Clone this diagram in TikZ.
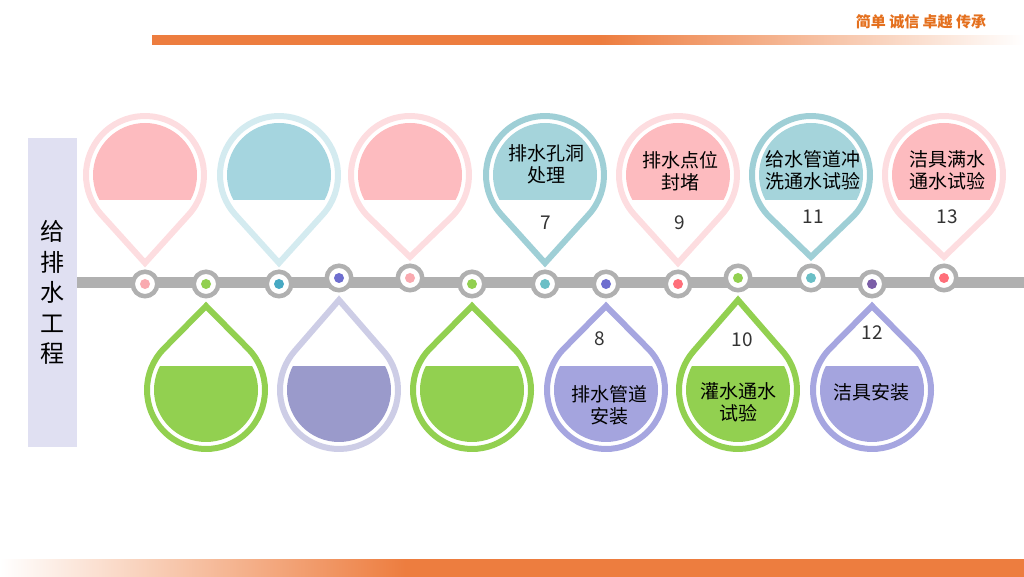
\documentclass[tikz,border=0pt]{standalone}
\usepackage{fontspec}
\setmainfont{Noto Sans CJK SC}
\usetikzlibrary{calc,positioning}

\definecolor{barorange}{HTML}{ED7D3F}
\definecolor{slogan}{HTML}{E4701E}
\definecolor{rail}{HTML}{B0B0B0}
\definecolor{sidebox}{HTML}{E0E0F2}
\definecolor{pinkline}{HTML}{FDDDE0}
\definecolor{pinkfill}{HTML}{FDBBBF}
\definecolor{blueline}{HTML}{D4EBF0}
\definecolor{bluefill}{HTML}{A5D5DF}
\definecolor{tealline}{HTML}{9FCFD6}
\definecolor{tealfill}{HTML}{A5D4DB}
\definecolor{greenline}{HTML}{92D050}
\definecolor{greenfill}{HTML}{92D050}
\definecolor{lavline}{HTML}{CDCDE6}
\definecolor{lavfill}{HTML}{9A9ACB}
\definecolor{purpline}{HTML}{A6A6E0}
\definecolor{purpfill}{HTML}{A4A4DE}
\definecolor{dotpink}{HTML}{F9AAB0}
\definecolor{dotgreen}{HTML}{92D050}
\definecolor{dotblue}{HTML}{47A9C3}
\definecolor{dotviolet}{HTML}{6E6ECF}
\definecolor{dotteal}{HTML}{6ABFC6}
\definecolor{dotred}{HTML}{FF6F7A}
\definecolor{dotplum}{HTML}{7B5EA7}
\definecolor{numgray}{HTML}{333333}

\pgfdeclarehorizontalshading{topfade}{100bp}{color(0bp)=(barorange); color(50.7bp)=(barorange); color(75bp)=(white); color(100bp)=(white)}
\pgfdeclarehorizontalshading{bottomfade}{100bp}{color(0bp)=(white); color(25bp)=(white); color(44.8bp)=(barorange); color(100bp)=(barorange)}

% drop hanging above the rail: x, tip y, line colour, fill colour
\newcommand{\dropdown}[4]{%
  \pgfmathsetmacro\tipang{acos(59/(402-#2))}
  \begin{scope}
    \clip (#1-60,377) rectangle (#1+60,470);
    \fill[#4] (#1,402) circle (52);
  \end{scope}
  \draw[#3, line width=6pt] (#1,#2) -- ($(#1,402)+(-90+\tipang:59)$)
    arc[start angle=-90+\tipang, end angle=270-\tipang, radius=59] -- cycle;
}
% drop standing below the rail
\newcommand{\dropup}[4]{%
  \pgfmathsetmacro\tipang{acos(59/(#2-187))}
  \begin{scope}
    \clip (#1-60,120) rectangle (#1+60,210);
    \fill[#4] (#1,187) circle (52);
  \end{scope}
  \draw[#3, line width=6pt] (#1,#2) -- ($(#1,187)+(90-\tipang:59)$)
    arc[start angle=90-\tipang, end angle=-270+\tipang, radius=59] -- cycle;
}

\begin{document}
\begin{tikzpicture}[
    x=1pt, y=1pt,
    every node/.style={
        font=\fontsize{19}{22}\selectfont
    },
    stop/.style={
        circle, draw=rail, line width=4.5pt, fill=white,
        minimum size=24.5pt, inner sep=0pt,
        path picture={\fill[#1] (path picture bounding box.center) circle (5);}
    },
    droptext/.style={align=center, inner sep=0pt, text=black},
    stepnum/.style={inner sep=0pt, text=numgray}
]
\useasboundingbox (0,0) rectangle (1024,577);

% bars and slogan
\shade[shading=topfade] (152,532) rectangle (1024,541);
\shade[shading=bottomfade] (0,0) rectangle (1024,17);
\node[text=slogan, font=\fontsize{15}{15}\selectfont\bfseries] (motto) at (921,555) {简单 诚信 卓越 传承};

\node[fill=sidebox, minimum width=49pt, minimum height=309pt, inner sep=0pt,
      align=center, font=\fontsize{24}{30.5}\selectfont] (title) at (52.5,284.5) {给\\排\\水\\工\\程};

\draw[rail, line width=11pt] (title.east |- 0,294) -- (1024,294);

% upper drops
\dropdown{145}{314}{pinkline}{pinkfill}
\dropdown{279}{314}{blueline}{bluefill}
\dropdown{410}{320}{pinkline}{pinkfill}
\dropdown{545}{314}{tealline}{tealfill}
\dropdown{678}{314}{pinkline}{pinkfill}
\dropdown{811}{320}{tealline}{tealfill}
\dropdown{944}{320}{pinkline}{pinkfill}

% lower drops
\dropup{206}{271}{greenline}{greenfill}
\dropup{339}{277}{lavline}{lavfill}
\dropup{472}{271}{greenline}{greenfill}
\dropup{606}{271}{purpline}{purpfill}
\dropup{738}{277}{greenline}{greenfill}
\dropup{872}{271}{purpline}{purpfill}

% stops on the rail
\node[stop=dotpink] (s1) at (145,293) {};
\node[stop=dotgreen] (s2) at (206,293) {};
\node[stop=dotblue] (s3) at (279,293) {};
\node[stop=dotviolet] (s4) at (339,299) {};
\node[stop=dotpink] (s5) at (410,299) {};
\node[stop=dotgreen] (s6) at (472,293) {};
\node[stop=dotteal] (s7) at (545,293) {};
\node[stop=dotviolet] (s8) at (606,293) {};
\node[stop=dotred] (s9) at (678,293) {};
\node[stop=dotgreen] (s10) at (738,299) {};
\node[stop=dotteal] (s11) at (811,299) {};
\node[stop=dotplum] (s12) at (872,293) {};
\node[stop=dotred] (s13) at (944,299) {};

% labels
\node[droptext] (t7) at (546,413) {排水孔洞\\处理};
\node[stepnum] (n7) at (546,354) {7};
\node[droptext] (t9) at (680,406) {排水点位\\封堵};
\node[stepnum] (n9) at (680,354) {9};
\node[droptext] (t11) at (813,407) {给水管道冲\\洗通水试验};
\node[stepnum] (n11) at (813,360) {11};
\node[droptext] (t13) at (947,407) {洁具满水\\通水试验};
\node[stepnum] (n13) at (947,360) {13};
\node[droptext] (t8) at (609,172) {排水管道\\安装};
\node[stepnum] (n8) at (600,238) {8};
\node[droptext] (t10) at (738,175) {灌水通水\\试验};
\node[stepnum] (n10) at (742,237) {10};
\node[droptext] (t12) at (871,185) {洁具安装};
\node[stepnum] (n12) at (872,244) {12};
\end{tikzpicture}
\end{document}
